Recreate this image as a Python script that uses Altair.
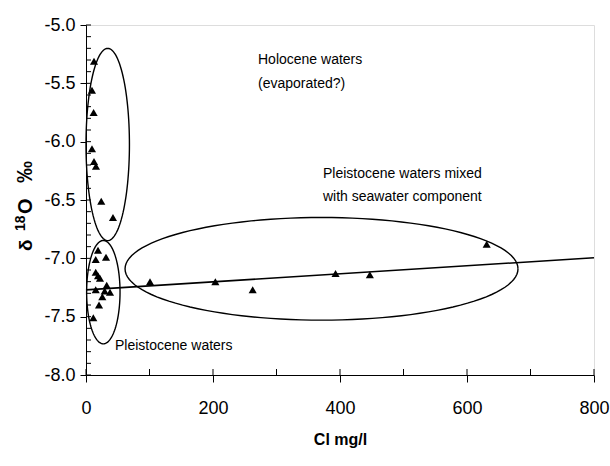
import altair as alt
import pandas as pd
import numpy as np

# --- data ---
cl_holocene = [12.6, 9.4, 12.0, 9.4, 12.6, 15.7, 24.0, 42.5]
d18o_holocene = [-5.31, -5.56, -5.75, -6.06, -6.17, -6.21, -6.51, -6.65]

cl_pleist = [18.9, 15.3, 31.5, 15.3, 18.9, 22.0, 32.6, 15.3, 29.4, 37.8, 25.7, 20.5, 11.5]
d18o_pleist = [-6.93, -7.01, -6.99, -7.12, -7.15, -7.17, -7.23, -7.27, -7.28, -7.29, -7.33, -7.40, -7.51]

cl_mixed = [100.8, 203.7, 262.5, 393.0, 447.0, 631.0]
d18o_mixed = [-7.20, -7.20, -7.27, -7.13, -7.14, -6.88]

# trend line (value at left and right edge)
trend_x = [0, 800]
trend_y = [-7.27, -6.995]

# ellipse annotations: centre x, centre y, radius x, radius y (data units)
ell_names = ["holocene", "pleistocene", "mixed"]
ell_cx = [34.2, 27.3, 370.9]
ell_cy = [-6.024, -7.29, -7.09]
ell_rx = [34.2, 26.3, 309.4]
ell_ry = [0.824, 0.443, 0.44]

x_ticks = [0, 200, 400, 600, 800]
x_minor = [0, 100, 200, 300, 400, 500, 600, 700, 800]
y_ticks = [-8.0, -7.5, -7.0, -6.5, -6.0, -5.5, -5.0]
y_minor = [round(-8.0 + 0.1 * i, 1) for i in range(31)]

FONT = "Liberation Sans"
W, H = 508, 350

pts = pd.DataFrame({
    "cl": cl_holocene + cl_pleist + cl_mixed,
    "d18o": d18o_holocene + d18o_pleist + d18o_mixed,
})

xs = alt.Scale(domain=[0, 800], nice=False, zero=False)
ys = alt.Scale(domain=[-8.0, -5.0], nice=False, zero=False)

xax = alt.Axis(values=x_ticks, title="Cl  mg/l", labelFontSize=18, labelFont=FONT,
               labelColor="black", tickSize=7, tickColor="black", domainColor="black",
               labelPadding=17, titleFont=FONT, titleFontSize=16, titleFontWeight="bold",
               titleColor="black", titlePadding=14, grid=False, labelFlush=False)
yax = alt.Axis(values=y_ticks, labelExpr="replace(format(datum.value, '.1f'), '\u2212', '-')",
               title=None, labelFontSize=18, labelFont=FONT,
               labelColor="black", tickSize=6, tickColor="black", domainColor="black",
               labelPadding=5, grid=False, labelFlush=False)

points = alt.Chart(pts).mark_point(shape="triangle-up", filled=True, color="black",
                                   size=66, opacity=1).encode(
    x=alt.X("cl:Q", scale=xs, axis=xax),
    y=alt.Y("d18o:Q", scale=ys, axis=yax),
)

trend = alt.Chart(pd.DataFrame({"cl": trend_x, "d18o": trend_y})).mark_line(
    color="black", strokeWidth=1.6).encode(
    x=alt.X("cl:Q", scale=xs), y=alt.Y("d18o:Q", scale=ys))

rows = []
t = np.linspace(0, 2 * np.pi, 121)
for n, cx, cy, rx, ry in zip(ell_names, ell_cx, ell_cy, ell_rx, ell_ry):
    for i, tt in enumerate(t):
        rows.append({"name": n, "i": i, "cl": cx + rx * np.cos(tt), "d18o": cy + ry * np.sin(tt)})
ell_df = pd.DataFrame(rows)
ellipses = alt.Chart(ell_df).mark_line(color="black", strokeWidth=1.4, clip=False).encode(
    x=alt.X("cl:Q", scale=xs), y=alt.Y("d18o:Q", scale=ys),
    detail="name:N", order="i:Q")

xminor = alt.Chart(pd.DataFrame({"v": x_minor})).mark_rule(color="black").encode(
    x=alt.X("v:Q", scale=xs), y=alt.value(H), y2=alt.value(H - 6))
yminor = alt.Chart(pd.DataFrame({"v": y_minor})).mark_rule(color="black").encode(
    y=alt.Y("v:Q", scale=ys), x=alt.value(0), x2=alt.value(5))

ann_text = ["Holocene waters", "(evaporated?)", "Pleistocene waters mixed",
            "with seawater component", "Pleistocene waters"]
ann_df = pd.DataFrame({
    "label": ann_text,
    "px": [258 - 86, 258 - 86, 323 - 86, 323 - 86, 115 - 86],
    "py": [64 - 25, 88 - 25, 178 - 25, 201 - 25, 350 - 25],
})
labels = alt.Chart(ann_df).mark_text(font=FONT, fontSize=14, align="left",
                                     baseline="alphabetic", color="black").encode(
    x=alt.X("px:Q", scale=None), y=alt.Y("py:Q", scale=None), text="label:N")

# rotated y-axis title built from pieces so that "18" is a superscript
title_parts = ["δ", "18", "O", "‰"]
title_df = pd.DataFrame({
    "part": title_parts,
    "px": [32 - 86, 25 - 86, 32 - 86, 32 - 86],
    "py": [251 - 25, 231 - 25, 214 - 25, 183 - 25],
    "fs": [19, 14, 20, 22],
})
ytitle = alt.Chart(title_df).mark_text(font=FONT, fontWeight="bold", angle=270, align="left",
                                       baseline="alphabetic", color="black").encode(
    x=alt.X("px:Q", scale=None), y=alt.Y("py:Q", scale=None), text="part:N",
    size=alt.Size("fs:Q", scale=None, legend=None))

chart = alt.layer(ellipses, trend, xminor, yminor, points, labels, ytitle).properties(
    width=W, height=H,
    autosize=alt.AutoSizeParams(type="none"),
    padding={"left": 86, "top": 25, "right": 16, "bottom": 91},
).configure_view(stroke="black", strokeWidth=1).configure(background="white")

chart.save("out.html", embed_options={"renderer": "svg", "actions": False})
